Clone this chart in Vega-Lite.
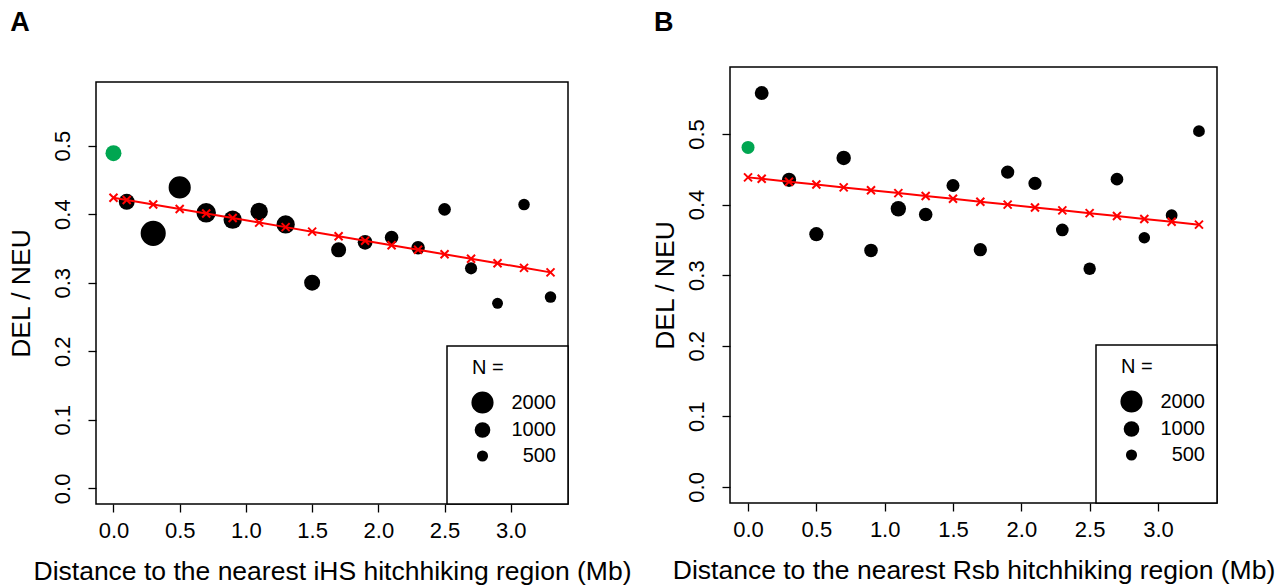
{
 "$schema": "https://vega.github.io/schema/vega-lite/v6.json",
 "background": "white",
 "padding": {"left": 7, "top": 8, "right": 5, "bottom": 0},
 "config": {
  "font": "Liberation Sans",
  "view": {"stroke": "black", "strokeWidth": 1.5},
  "axis": {"domain": false, "grid": false, "tickColor": "black", "tickSize": 8, "tickWidth": 1.3, "labelFontSize": 22, "labelColor": "black", "titleFontSize": 26.5, "titleFontWeight": "normal", "titleColor": "black", "labelOverlap": false, "labelFlush": false},
  "axisX": {"labelPadding": 8, "titlePadding": 17},
  "axisY": {"labelAngle": -90, "labelAlign": "center", "labelBaseline": "alphabetic", "labelPadding": 19},
  "legend": {"orient": "bottom-right", "offset": 0, "padding": 12, "strokeColor": "black", "strokeWidth": 1.5, "fillColor": "white", "titleFontSize": 20, "titleFontWeight": "normal", "titleColor": "black", "titlePadding": 13, "labelFontSize": 20, "labelColor": "black", "symbolType": "circle", "symbolFillColor": "black", "symbolStrokeColor": "black", "symbolStrokeWidth": 0, "symbolOpacity": 1, "symbolOffset": 12, "labelOffset": 62, "labelAlign": "right", "rowPadding": 6},
  "title": {"fontSize": 27, "fontWeight": "bold", "anchor": "start", "frame": "bounds", "color": "black", "baseline": "alphabetic"}
 },
 "datasets": {
  "ptsA": [
   {"dist": 0, "ratio": 0.489, "N": 1040, "group": "first"},
   {"dist": 0.1, "ratio": 0.418, "N": 1040, "group": "other"},
   {"dist": 0.3, "ratio": 0.372, "N": 2570, "group": "other"},
   {"dist": 0.5, "ratio": 0.439, "N": 2000, "group": "other"},
   {"dist": 0.7, "ratio": 0.402, "N": 1550, "group": "other"},
   {"dist": 0.9, "ratio": 0.392, "N": 1370, "group": "other"},
   {"dist": 1.1, "ratio": 0.404, "N": 1240, "group": "other"},
   {"dist": 1.3, "ratio": 0.385, "N": 1370, "group": "other"},
   {"dist": 1.5, "ratio": 0.300, "N": 1040, "group": "other"},
   {"dist": 1.7, "ratio": 0.348, "N": 925, "group": "other"},
   {"dist": 1.9, "ratio": 0.359, "N": 890, "group": "other"},
   {"dist": 2.1, "ratio": 0.366, "N": 750, "group": "other"},
   {"dist": 2.3, "ratio": 0.351, "N": 750, "group": "other"},
   {"dist": 2.5, "ratio": 0.407, "N": 655, "group": "other"},
   {"dist": 2.7, "ratio": 0.321, "N": 600, "group": "other"},
   {"dist": 2.9, "ratio": 0.270, "N": 485, "group": "other"},
   {"dist": 3.1, "ratio": 0.414, "N": 540, "group": "other"},
   {"dist": 3.3, "ratio": 0.279, "N": 540, "group": "other"}
  ],
  "fitA": [
   {"dist": 0, "ratio": 0.4240}, {"dist": 0.1, "ratio": 0.4207}, {"dist": 0.3, "ratio": 0.4141},
   {"dist": 0.5, "ratio": 0.4075}, {"dist": 0.7, "ratio": 0.4009}, {"dist": 0.9, "ratio": 0.3943},
   {"dist": 1.1, "ratio": 0.3877}, {"dist": 1.3, "ratio": 0.3811}, {"dist": 1.5, "ratio": 0.3745},
   {"dist": 1.7, "ratio": 0.3679}, {"dist": 1.9, "ratio": 0.3613}, {"dist": 2.1, "ratio": 0.3547},
   {"dist": 2.3, "ratio": 0.3481}, {"dist": 2.5, "ratio": 0.3415}, {"dist": 2.7, "ratio": 0.3349},
   {"dist": 2.9, "ratio": 0.3283}, {"dist": 3.1, "ratio": 0.3217}, {"dist": 3.3, "ratio": 0.3151}
  ],
  "ptsB": [
   {"dist": 0, "ratio": 0.481, "N": 690, "group": "first"},
   {"dist": 0.1, "ratio": 0.558, "N": 785, "group": "other"},
   {"dist": 0.3, "ratio": 0.435, "N": 820, "group": "other"},
   {"dist": 0.5, "ratio": 0.358, "N": 820, "group": "other"},
   {"dist": 0.7, "ratio": 0.466, "N": 850, "group": "other"},
   {"dist": 0.9, "ratio": 0.335, "N": 750, "group": "other"},
   {"dist": 1.1, "ratio": 0.394, "N": 960, "group": "other"},
   {"dist": 1.3, "ratio": 0.386, "N": 750, "group": "other"},
   {"dist": 1.5, "ratio": 0.427, "N": 690, "group": "other"},
   {"dist": 1.7, "ratio": 0.336, "N": 720, "group": "other"},
   {"dist": 1.9, "ratio": 0.446, "N": 720, "group": "other"},
   {"dist": 2.1, "ratio": 0.430, "N": 720, "group": "other"},
   {"dist": 2.3, "ratio": 0.364, "N": 655, "group": "other"},
   {"dist": 2.5, "ratio": 0.309, "N": 630, "group": "other"},
   {"dist": 2.7, "ratio": 0.436, "N": 655, "group": "other"},
   {"dist": 2.9, "ratio": 0.353, "N": 540, "group": "other"},
   {"dist": 3.1, "ratio": 0.385, "N": 570, "group": "other"},
   {"dist": 3.3, "ratio": 0.504, "N": 570, "group": "other"}
  ],
  "fitB": [
   {"dist": 0, "ratio": 0.4385}, {"dist": 0.1, "ratio": 0.4365}, {"dist": 0.3, "ratio": 0.4324},
   {"dist": 0.5, "ratio": 0.4284}, {"dist": 0.7, "ratio": 0.4243}, {"dist": 0.9, "ratio": 0.4202},
   {"dist": 1.1, "ratio": 0.4162}, {"dist": 1.3, "ratio": 0.4121}, {"dist": 1.5, "ratio": 0.4081},
   {"dist": 1.7, "ratio": 0.4040}, {"dist": 1.9, "ratio": 0.3999}, {"dist": 2.1, "ratio": 0.3959},
   {"dist": 2.3, "ratio": 0.3918}, {"dist": 2.5, "ratio": 0.3878}, {"dist": 2.7, "ratio": 0.3837},
   {"dist": 2.9, "ratio": 0.3796}, {"dist": 3.1, "ratio": 0.3756}, {"dist": 3.3, "ratio": 0.3715}
  ],
  "blank": [{"t": ""}]
 },
 "spacing": 19,
 "resolve": {"scale": {"size": "independent", "color": "independent", "x": "independent", "y": "independent"}, "legend": {"size": "independent"}},
 "hconcat": [
  {
   "title": {"text": "A", "offset": 30, "dx": 3},
   "bounds": "flush",
   "spacing": 0,
   "resolve": {"scale": {"size": "independent", "color": "independent", "x": "independent", "y": "independent"}, "legend": {"size": "independent"}},
   "vconcat": [
    {
     "width": 472, "height": 15,
     "view": {"stroke": null},
     "data": {"name": "blank"},
     "mark": {"type": "text"},
     "encoding": {"text": {"field": "t", "type": "nominal"}}
    },
    {
     "width": 472, "height": 422,
     "encoding": {
      "x": {"field": "dist", "type": "quantitative", "scale": {"domain": [-0.132, 3.432], "nice": false, "zero": false}, "axis": {"values": [0, 0.5, 1, 1.5, 2, 2.5, 3], "format": ".1f", "title": "Distance to the nearest iHS hitchhiking region (Mb)"}},
      "y": {"field": "ratio", "type": "quantitative", "scale": {"domain": [-0.0228, 0.5928], "nice": false, "zero": false}, "axis": {"values": [0, 0.1, 0.2, 0.3, 0.4, 0.5], "format": ".1f", "title": "DEL / NEU", "titlePadding": 16}}
     },
     "layer": [
      {
       "data": {"name": "ptsA"},
       "mark": {"type": "circle", "opacity": 1},
       "encoding": {
        "size": {"field": "N", "type": "quantitative", "scale": {"domain": [0, 2600], "range": [0, 638]}, "legend": {"values": [2000, 1000, 500, 0], "format": "d", "title": "N =", "labelExpr": "datum.value == 0 ? '' : datum.label", "encode": {"title": {"update": {"dx": {"value": 13}}}}}},
        "color": {"field": "group", "type": "nominal", "scale": {"domain": ["first", "other"], "range": ["#00a651", "#000000"]}, "legend": null}
       }
      },
      {
       "data": {"name": "fitA"},
       "mark": {"type": "line", "color": "#ff0000", "strokeWidth": 2},
       "encoding": {}
      },
      {
       "data": {"name": "fitA"},
       "mark": {"type": "point", "shape": "M-1,-1L1,1M-1,1L1,-1", "filled": false, "color": "#ff0000", "strokeWidth": 2, "size": 64, "opacity": 1},
       "encoding": {}
      }
     ]
    }
   ]
  },
  {
   "width": 487, "height": 436,
   "title": {"text": "B", "offset": 30, "dx": 2},
   "encoding": {
    "x": {"field": "dist", "type": "quantitative", "scale": {"domain": [-0.132, 3.432], "nice": false, "zero": false}, "axis": {"values": [0, 0.5, 1, 1.5, 2, 2.5, 3], "format": ".1f", "title": "Distance to the nearest Rsb hitchhiking region (Mb)"}},
    "y": {"field": "ratio", "type": "quantitative", "scale": {"domain": [-0.0229, 0.5949], "nice": false, "zero": false}, "axis": {"values": [0, 0.1, 0.2, 0.3, 0.4, 0.5], "format": ".1f", "title": "DEL / NEU", "titlePadding": 6}}
   },
   "layer": [
    {
     "data": {"name": "ptsB"},
     "mark": {"type": "circle", "opacity": 1},
     "encoding": {
      "size": {"field": "N", "type": "quantitative", "scale": {"domain": [0, 2600], "range": [0, 638]}, "legend": {"values": [2000, 1000, 500, 0], "format": "d", "title": "N =", "labelExpr": "datum.value == 0 ? '' : datum.label", "encode": {"title": {"update": {"dx": {"value": 13}}}}}},
      "color": {"field": "group", "type": "nominal", "scale": {"domain": ["first", "other"], "range": ["#00a651", "#000000"]}, "legend": null}
     }
    },
    {
     "data": {"name": "fitB"},
     "mark": {"type": "line", "color": "#ff0000", "strokeWidth": 2},
     "encoding": {}
    },
    {
     "data": {"name": "fitB"},
     "mark": {"type": "point", "shape": "M-1,-1L1,1M-1,1L1,-1", "filled": false, "color": "#ff0000", "strokeWidth": 2, "size": 64, "opacity": 1},
     "encoding": {}
    }
   ]
  }
 ]
}
